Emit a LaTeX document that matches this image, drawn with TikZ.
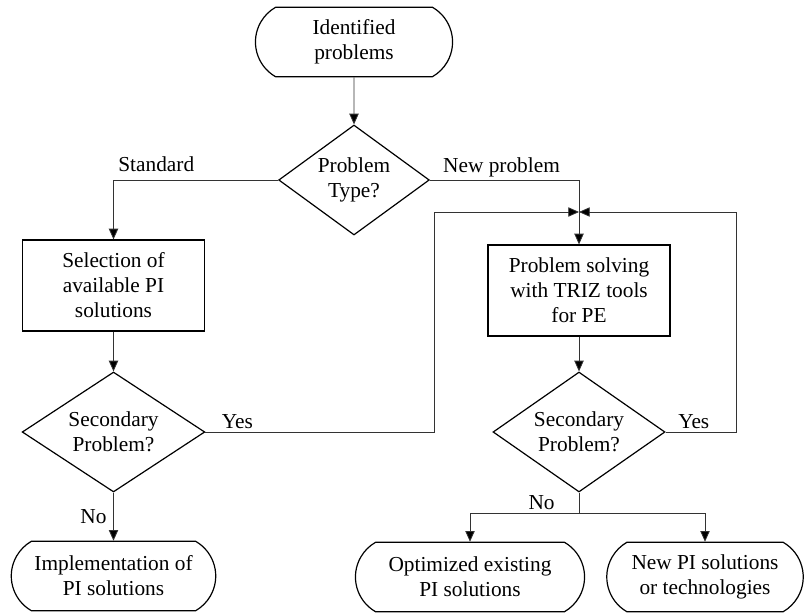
\documentclass[tikz,border=0pt]{standalone}
\usepackage{fontspec}
\setmainfont{Liberation Serif}
\usetikzlibrary{shapes.geometric,shapes.misc,arrows.meta}

\begin{document}
\begin{tikzpicture}[x=0.75pt, y=-0.75pt,
    font=\fontsize{16}{18.75}\selectfont,
    term/.style={draw, line width=0.9pt, rounded rectangle, rounded rectangle arc length=120, align=center, minimum height=52pt},
    proc/.style={draw, line width=0.9pt, rectangle, align=center, minimum width=136.5pt, minimum height=68.25pt},
    ask/.style={draw, line width=0.9pt, diamond, inner sep=0pt, align=center, shape aspect=1.5, minimum height=90pt},
    conn/.style={draw=black!80, line width=0.6pt, -{Triangle[length=8pt,width=7pt,fill=black]}},
    lbl/.style={inner sep=2pt}]
  \useasboundingbox (0,0) rectangle (809,613);
  % start and first question
  \node[term, minimum width=154.5pt] (ident) at (354,42) {Identified\\problems};
  \node[ask, minimum width=113pt, minimum height=82.5pt, shape aspect=1.37] (ptype) at (354,180) {Problem\\Type?};
  % process boxes
  \node[proc] (select) at (113.5,285.5) {Selection of\\available PI\\solutions};
  \node[proc] (triz) at (579,290.5) {Problem solving\\with TRIZ tools\\for PE};
  % secondary checks
  \node[ask, minimum width=137pt] (secl) at (113.5,432) {Secondary\\Problem?};
  \node[ask, minimum width=129pt] (secr) at (579,432) {Secondary\\Problem?};
  % outcomes
  \node[term, minimum width=160pt] (impl) at (113.5,576) {Implementation of\\PI solutions};
  \node[term, minimum width=178.5pt] (optim) at (470,577) {Optimized existing\\PI solutions};
  \node[term, minimum width=154pt] (newpi) at (705,577) {New PI solutions\\or technologies};
  % junction points
  \coordinate (meet) at (579,212);
  \coordinate (loopl) at (434,212);
  \coordinate (loopr) at (736,212);
  \coordinate (fork) at (579,513);
  % connectors
  \draw[conn] (ident) -- (ptype);
  \draw[conn] (ptype.west) -| node[lbl, above, pos=0.37, yshift=4pt] (lstd) {Standard} (select.north);
  \draw[conn] (ptype.east) -| node[lbl, above, pos=0.24] (lnew) {New problem} (triz.north);
  \draw[conn] (select) -- (secl);
  \draw[conn] (triz) -- (secr);
  \draw[conn] (secl.east) -| node[lbl, above, pos=0.07] (lyesl) {Yes} (loopl) -- (meet);
  \draw[conn] (secr.east) -| node[lbl, above, pos=0.2] (lyesr) {Yes} (loopr) -- (meet);
  \draw[conn] (secl.south) -- node[lbl, left=3pt] (lnol) {No} (impl.north);
  \draw[draw=black!80, line width=0.6pt] (secr.south) -- node[lbl, left=16pt] (lnor) {No} (fork);
  \draw[conn] (fork) -| (optim.north);
  \draw[conn] (fork) -| (newpi.north);
\end{tikzpicture}
\end{document}
